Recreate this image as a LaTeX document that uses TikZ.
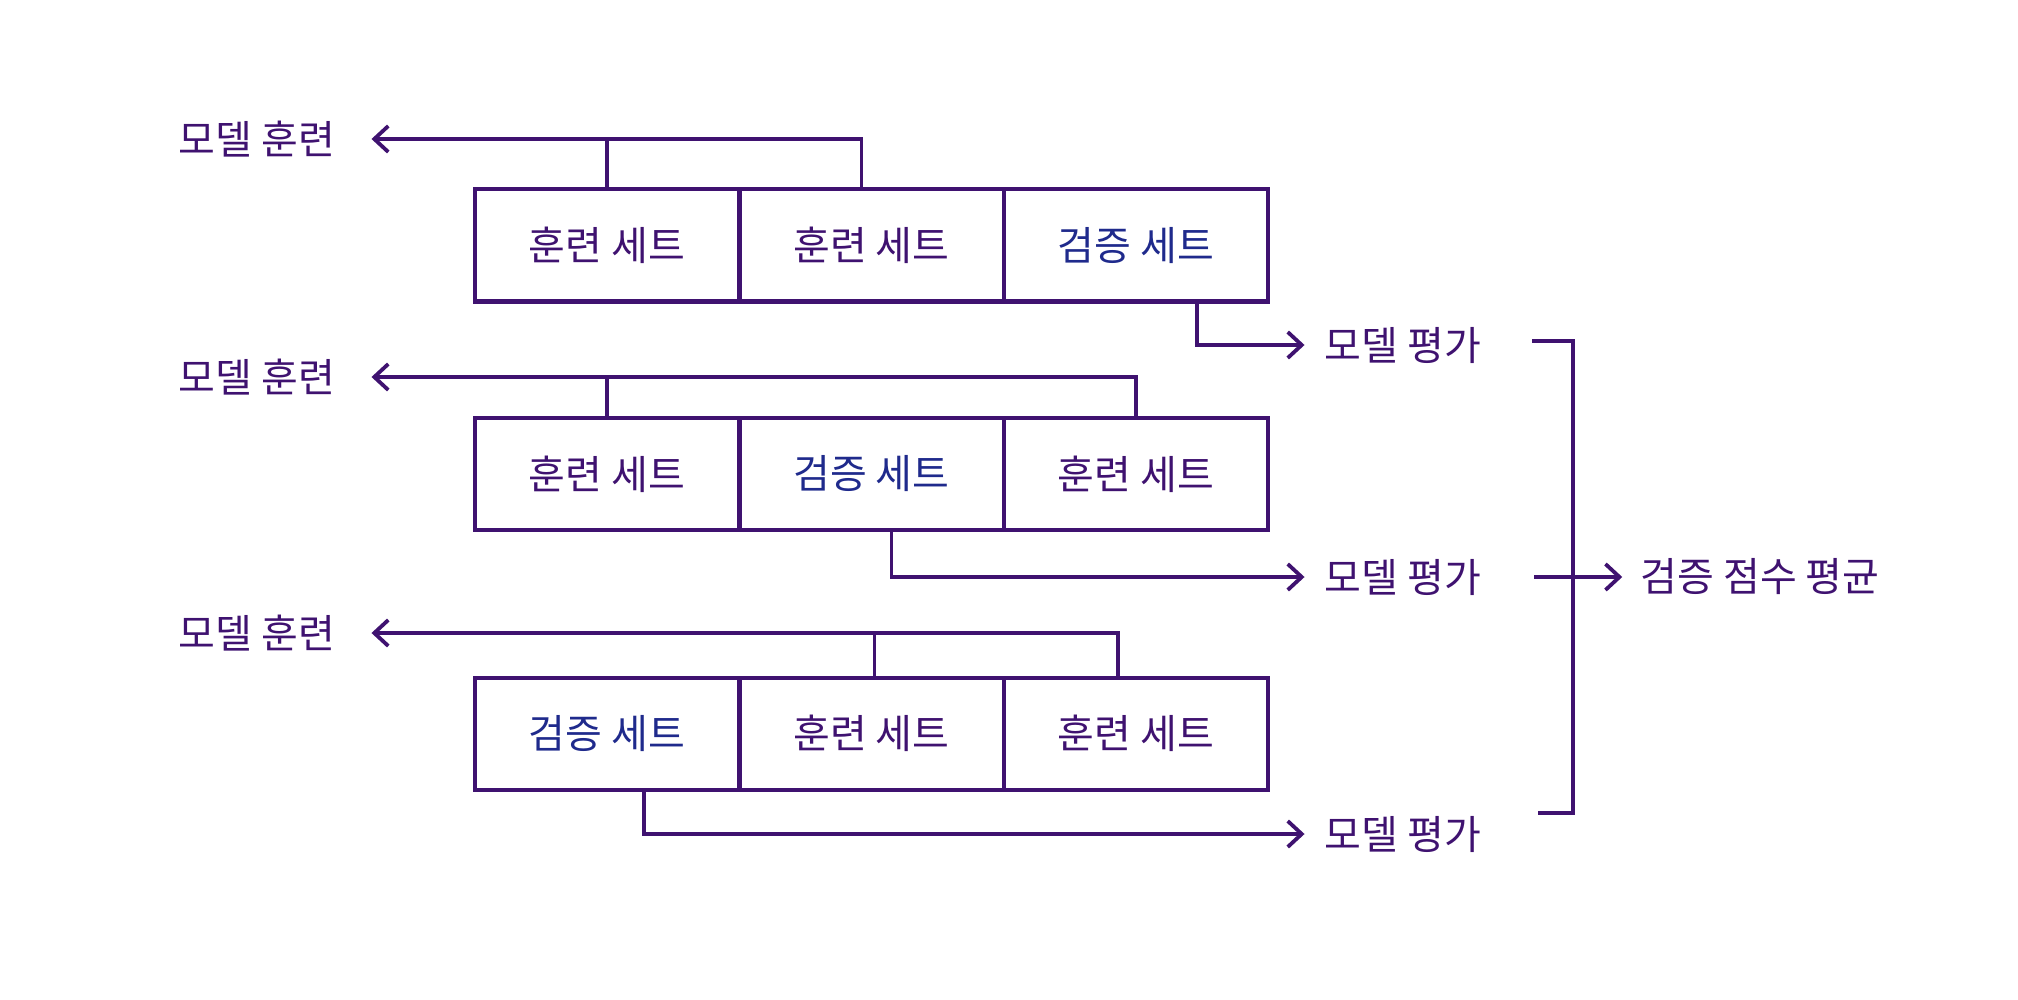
\documentclass[tikz,border=0pt]{standalone}
\usepackage{fontspec}
\setmainfont{Noto Sans CJK KR}
\usetikzlibrary{arrows.meta}
\definecolor{ink}{HTML}{3F1270}
\definecolor{valblue}{HTML}{1F2A8C}
\begin{document}
\begin{tikzpicture}[x=0.5pt,y=-0.5pt,
  conn/.style={draw=ink,line width=1.9pt},
  arr/.style={conn,-{Straight Barb[length=7pt,width=13pt]}},
  box/.style={draw=ink,line width=2pt,minimum width=132pt,minimum height=56pt,inner sep=0pt,font=\fontsize{20}{23}\selectfont,text=ink},
  val/.style={box,text=valblue},
  lbl/.style={inner sep=0pt,font=\fontsize{20}{23}\selectfont,text=ink}]
\useasboundingbox (0,0) rectangle (2018,1000);

% row 1
\node[box] (b11) at (607,245.5) {훈련 세트};
\node[box] (b12) at (871.5,245.5) {훈련 세트};
\node[val] (b13) at (1136,245.5) {검증 세트};
% row 2
\node[box] (b21) at (607,474) {훈련 세트};
\node[val] (b22) at (871.5,474) {검증 세트};
\node[box] (b23) at (1136,474) {훈련 세트};
% row 3
\node[val] (b31) at (607,733.5) {검증 세트};
\node[box] (b32) at (871.5,733.5) {훈련 세트};
\node[box] (b33) at (1136,733.5) {훈련 세트};

% labels
\node[lbl] (t1) at (257,139) {모델 훈련};
\node[lbl] (t2) at (257,377) {모델 훈련};
\node[lbl] (t3) at (257,633) {모델 훈련};
\node[lbl] (e1) at (1403,345) {모델 평가};
\node[lbl] (e2) at (1403,577) {모델 평가};
\node[lbl] (e3) at (1403,834) {모델 평가};
\node[lbl] (avg) at (1760,577) {검증 점수 평균};

% training connectors
\draw[arr,shorten >=18pt] ([xshift=-5pt]b12.north) |- (t1.east);
\draw[conn] (b11.north) -- (b11.north |- t1.east);
\draw[arr,shorten >=18pt] (b23.north) |- (t2.east);
\draw[conn] (b21.north) -- (b21.north |- t2.east);
\draw[arr,shorten >=18pt] ([xshift=-9pt]b33.north) |- (t3.east);
\draw[conn] ([xshift=1.5pt]b32.north) -- ([xshift=1.5pt]b32.north |- t3.east);

% evaluation connectors
\coordinate (s1) at ([xshift=30.5pt]b13.south);
\coordinate (s2) at ([xshift=10pt]b22.south);
\coordinate (s3) at ([xshift=18.5pt]b31.south);
\draw[arr,shorten >=10pt] (s1) |- (e1.west);
\draw[arr,shorten >=10pt] (s2) |- (e2.west);
\draw[arr,shorten >=10pt] (s3) |- (e3.west);

% bracket
\coordinate (k1) at (1532,341);
\coordinate (k2) at (1573,341);
\coordinate (k3) at (1573,813);
\coordinate (k4) at (1538,813);
\coordinate (k5) at (1534,577);
\draw[conn] (k1) -- (k2) -- (k3) -- (k4);
\draw[arr,shorten >=9pt] (k5) -- (k5 -| avg.west);
\end{tikzpicture}
\end{document}
